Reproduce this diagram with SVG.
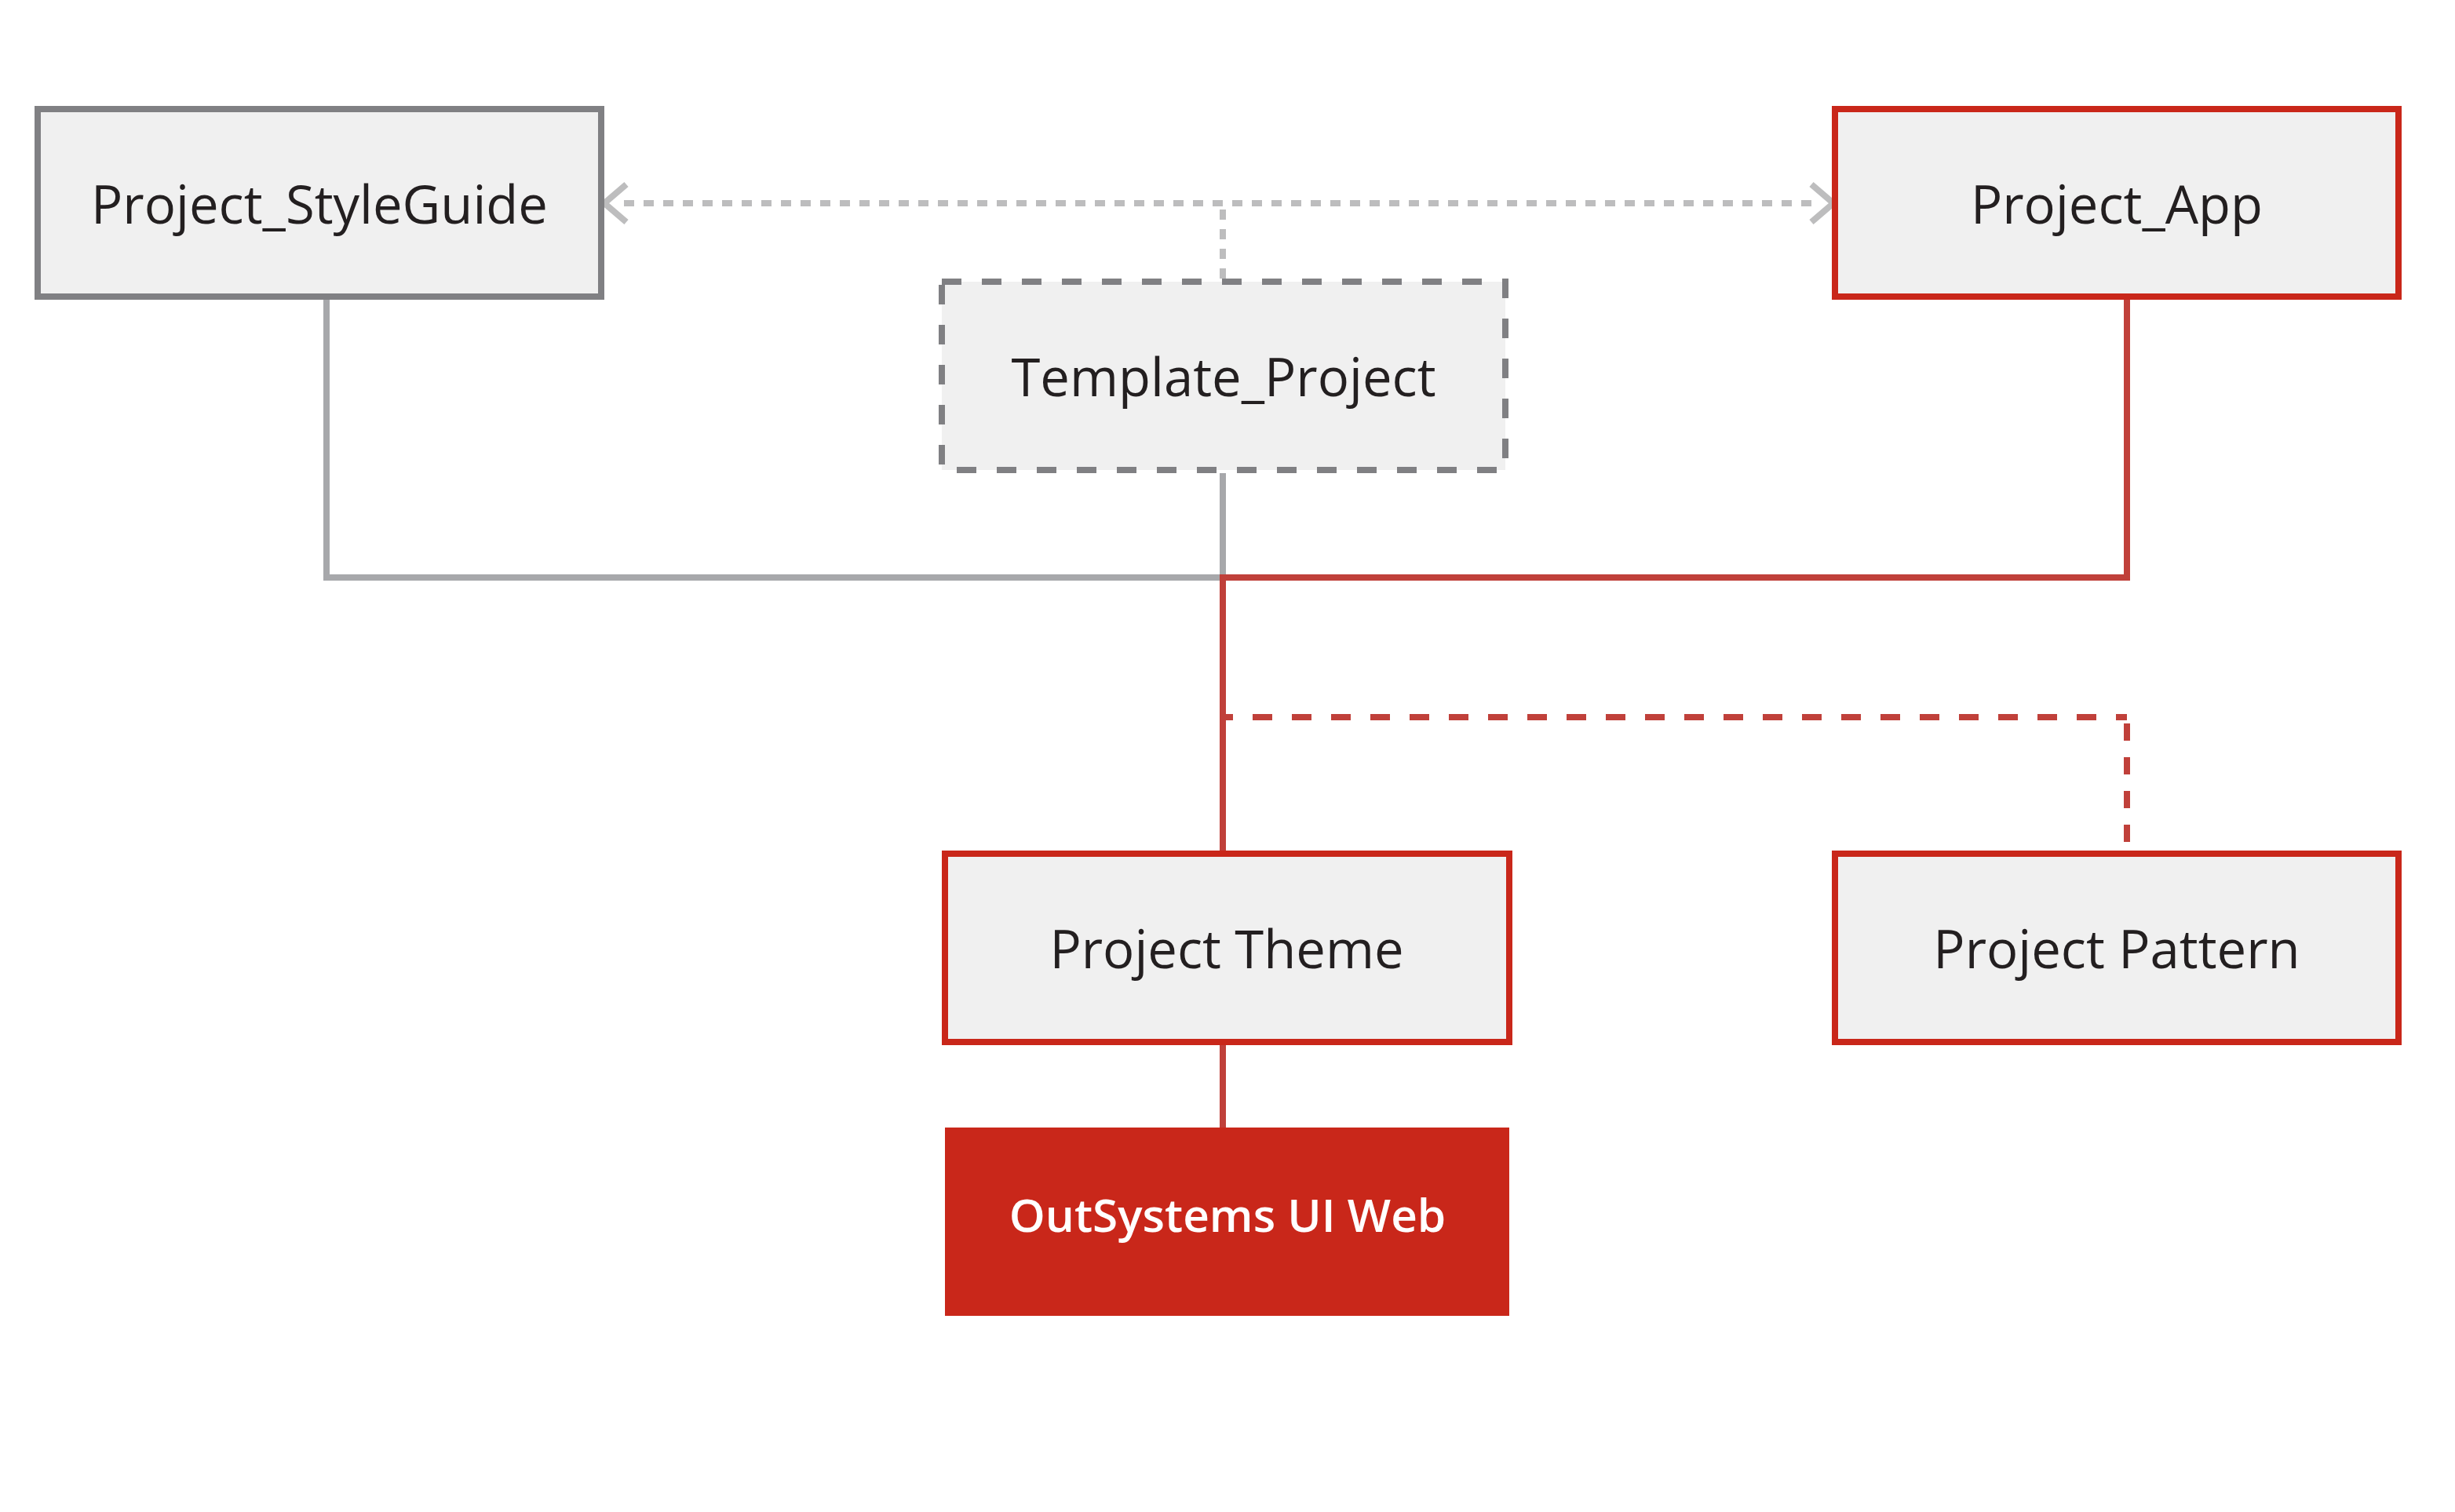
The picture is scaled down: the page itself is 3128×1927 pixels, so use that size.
<svg xmlns="http://www.w3.org/2000/svg" width="3128" height="1927" viewBox="0 0 3128 1927">
  <style>
    .box { fill: #f0f0f0; stroke-width: 8; }
    .gray { stroke: #808083; }
    .red { stroke: #c9271a; }
    .tmpl { stroke: #808083; stroke-dasharray: 25 26; }
    .lbl { font-family: "Open Sans", "Liberation Sans", sans-serif; font-size: 67px; fill: #231f20; text-anchor: middle; }
    .lblw { font-family: "Open Sans", "Liberation Sans", sans-serif; font-size: 58.5px; font-weight: 600; fill: #ffffff; text-anchor: middle; }
    .c-gray { fill: none; stroke: #a7a8ab; stroke-width: 8; }
    .c-red { fill: none; stroke: #c0403a; stroke-width: 8; }
    .c-dot { fill: none; stroke: #bdbdbe; stroke-width: 8; stroke-dasharray: 13 12; }
  </style>
  <defs>
    <marker id="chev" markerUnits="userSpaceOnUse" viewBox="-70 -35 80 70" markerWidth="80" markerHeight="70" refX="-27" refY="0" orient="auto-start-reverse">
      <path d="M -30 -24 L -2 0 L -30 24" fill="none" stroke="#bdbdbe" stroke-width="8"/>
    </marker>
  </defs>
  <rect width="3128" height="1927" fill="#ffffff"/>

  <g id="connectors">
    <path class="c-dot" d="M 795 259 L 2311 259" marker-start="url(#chev)" marker-end="url(#chev)"/>
    <path class="c-dot" d="M 1558 267 L 1558 355"/>
    <path class="c-gray" d="M 416 382 L 416 736 L 1558 736"/>
    <path class="c-gray" d="M 1558 603 L 1558 736"/>
    <path class="c-red" d="M 2710 382 L 2710 736 L 1558 736 L 1558 1084"/>
    <path class="c-red" d="M 1558 914 L 2710 914" stroke-dasharray="25 25" stroke-dashoffset="12"/>
    <path class="c-red" d="M 2710 914 L 2710 1084" stroke-dasharray="22 21" stroke-dashoffset="-8"/>
    <path class="c-red" d="M 1558 1332 L 1558 1437"/>
  </g>

  <g id="project-styleguide">
    <rect class="box gray" x="48" y="139" width="718" height="239"/>
    <text class="lbl" x="407" y="285">Project_StyleGuide</text>
  </g>

  <g id="project-app">
    <rect class="box red" x="2338" y="139" width="718" height="239"/>
    <text class="lbl" x="2697" y="285">Project_App</text>
  </g>

  <g id="template-project">
    <rect class="box tmpl" x="1200" y="359" width="718" height="240"/>
    <text class="lbl" x="1559" y="505">Template_Project</text>
  </g>

  <g id="project-theme">
    <rect class="box red" x="1204" y="1088" width="719" height="240"/>
    <text class="lbl" x="1563" y="1234">Project Theme</text>
  </g>

  <g id="project-pattern">
    <rect class="box red" x="2338" y="1088" width="718" height="240"/>
    <text class="lbl" x="2697" y="1234">Project Pattern</text>
  </g>

  <g id="outsystems-ui-web">
    <rect x="1204" y="1437" width="719" height="240" fill="#c9271a"/>
    <text class="lblw" x="1564" y="1570">OutSystems UI Web</text>
  </g>
</svg>
